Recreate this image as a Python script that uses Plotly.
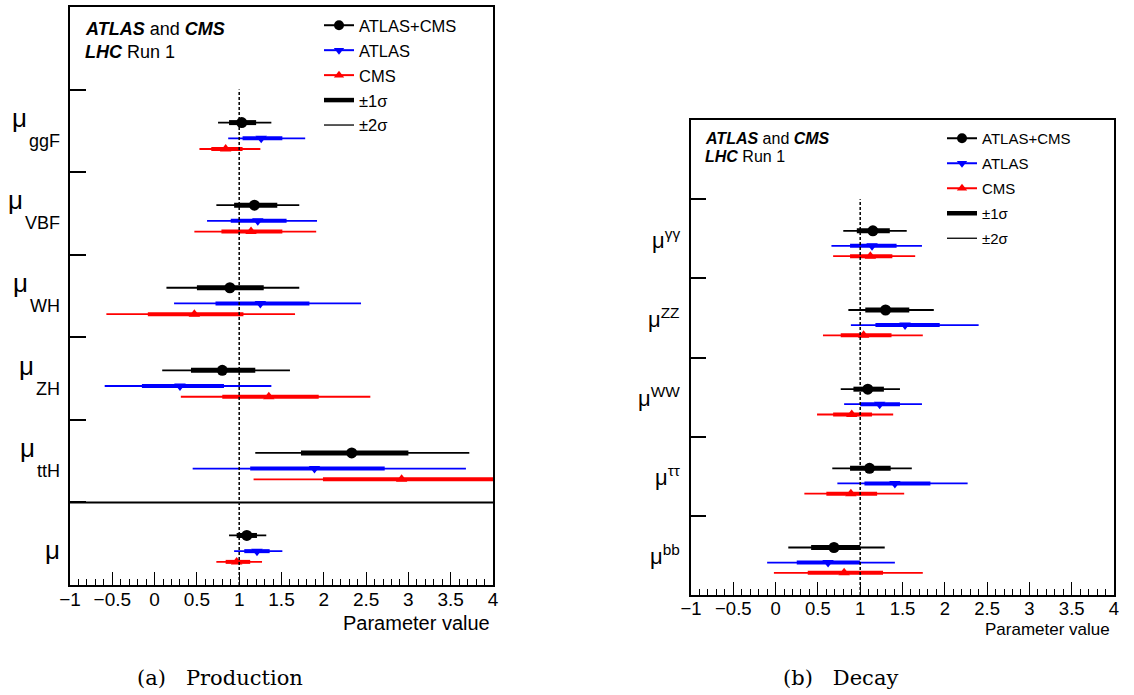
import plotly.graph_objects as go

W, H = 1134, 695
FONT = "Liberation Sans, Arial, Helvetica, sans-serif"

# ---------------------------------------------------------------------------
# Signal strengths: (best fit, 1 sigma low, 1 sigma high, 2 sigma low, 2 sigma high)
# Production panel, top to bottom: ggF, VBF, WH, ZH, ttH, global mu
prod_labels = ["ggF", "VBF", "WH", "ZH", "ttH", ""]
prod_comb = [
    (1.03, 0.88, 1.20, 0.75, 1.38),
    (1.18, 0.94, 1.45, 0.73, 1.71),
    (0.89, 0.50, 1.29, 0.14, 1.71),
    (0.80, 0.43, 1.19, 0.09, 1.60),
    (2.33, 1.73, 3.00, 1.19, 3.72),
    (1.09, 0.97, 1.21, 0.88, 1.32),
]
prod_atlas = [
    (1.26, 1.04, 1.51, 0.87, 1.78),
    (1.22, 0.90, 1.56, 0.62, 1.92),
    (1.25, 0.72, 1.83, 0.23, 2.44),
    (0.30, -0.15, 0.82, -0.59, 1.38),
    (1.89, 1.13, 2.72, 0.45, 3.68),
    (1.21, 1.06, 1.36, 0.94, 1.51),
]
prod_cms = [
    (0.84, 0.67, 1.04, 0.53, 1.25),
    (1.14, 0.79, 1.51, 0.47, 1.91),
    (0.47, -0.08, 1.05, -0.57, 1.66),
    (1.35, 0.80, 1.94, 0.31, 2.55),
    (2.92, 1.99, 4.05, 1.17, 5.00),
    (0.97, 0.84, 1.13, 0.73, 1.27),
]

# Decay panel, top to bottom
decay_labels = ["γγ", "ZZ", "WW", "ττ", "bb"]
decay_comb = [
    (1.15, 0.96, 1.35, 0.80, 1.55),
    (1.30, 1.06, 1.58, 0.86, 1.87),
    (1.09, 0.92, 1.28, 0.77, 1.47),
    (1.11, 0.88, 1.36, 0.67, 1.61),
    (0.69, 0.42, 1.00, 0.15, 1.29),
]
decay_atlas = [
    (1.14, 0.88, 1.43, 0.66, 1.73),
    (1.53, 1.18, 1.94, 0.89, 2.40),
    (1.23, 1.00, 1.47, 0.81, 1.73),
    (1.41, 1.05, 1.83, 0.73, 2.27),
    (0.62, 0.25, 1.00, -0.10, 1.41),
]
decay_cms = [
    (1.12, 0.88, 1.38, 0.68, 1.65),
    (1.04, 0.77, 1.37, 0.56, 1.74),
    (0.90, 0.68, 1.14, 0.49, 1.39),
    (0.89, 0.60, 1.20, 0.34, 1.52),
    (0.81, 0.38, 1.27, -0.02, 1.74),
]

x_ticks = [-1, -0.5, 0, 0.5, 1, 1.5, 2, 2.5, 3, 3.5, 4]
sm_value = 1.0

BLACK, BLUE, RED = "#000000", "#0000ff", "#ff0000"

fig = go.Figure()


def add_series(rows, color, symbol, msize, thick, offset, xa, ya):
    n = len(rows)
    ys = [n - 1 - i + offset for i in range(n)]
    vals = [r[0] for r in rows]
    # +-2 sigma: thin bar
    fig.add_trace(go.Scatter(
        x=vals, y=ys, mode="markers", xaxis=xa, yaxis=ya,
        marker=dict(size=2, color=color, opacity=0),
        error_x=dict(type="data", symmetric=False,
                     array=[r[4] - r[0] for r in rows],
                     arrayminus=[r[0] - r[3] for r in rows],
                     thickness=1.8, width=0, color=color),
        showlegend=False, hoverinfo="skip"))
    # +-1 sigma: thick bar with the best-fit marker
    fig.add_trace(go.Scatter(
        x=vals, y=ys, mode="markers", xaxis=xa, yaxis=ya,
        marker=dict(size=msize, color=color, symbol=symbol, line=dict(width=0)),
        error_x=dict(type="data", symmetric=False,
                     array=[r[2] - r[0] for r in rows],
                     arrayminus=[r[0] - r[1] for r in rows],
                     thickness=thick, width=0, color=color),
        showlegend=False, hoverinfo="skip"))


for xa, ya, comb, atlas, cms in [("x", "y", prod_comb, prod_atlas, prod_cms),
                                 ("x2", "y2", decay_comb, decay_atlas, decay_cms)]:
    add_series(comb, BLACK, "circle", 11, 5, 0.60, xa, ya)
    add_series(atlas, BLUE, "triangle-down", 10, 4, 0.41, xa, ya)
    add_series(cms, RED, "triangle-up", 10, 4, 0.28, xa, ya)

# Legend entries (one legend per panel)
legend_items = [
    ("ATLAS+CMS", BLACK, "lines+markers", 2, "circle", 10),
    ("ATLAS", BLUE, "lines+markers", 2, "triangle-down", 9),
    ("CMS", RED, "lines+markers", 2, "triangle-up", 9),
    ("±1σ", BLACK, "lines", 4.5, "circle", 1),
    ("±2σ", BLACK, "lines", 1.3, "circle", 1),
]
for leg, xa, ya in [("legend", "x", "y"), ("legend2", "x2", "y2")]:
    for k, (name, color, mode, lw, sym, ms) in enumerate(legend_items):
        fig.add_trace(go.Scatter(
            x=[None], y=[None], xaxis=xa, yaxis=ya, mode=mode, name=name,
            line=dict(color=color, width=lw),
            marker=dict(symbol=sym, size=ms, color=color),
            legend=leg, legendgroup=f"{leg}-{k}", showlegend=True))


def xaxis_cfg(domain, anchor, tick_size):
    return dict(
        domain=domain, anchor=anchor, range=[-1, 4], automargin=False,
        tickmode="array", tickvals=x_ticks, ticklabelstandoff=-4,
        ticks="inside", ticklen=13, tickwidth=1.2, tickcolor="black",
        minor=dict(dtick=0.1, tick0=-1, ticks="inside", ticklen=6,
                   tickwidth=1, tickcolor="black", showgrid=False),
        showline=True, linecolor="black", linewidth=1.5, mirror=True,
        showgrid=False, zeroline=False,
        tickfont=dict(family=FONT, size=tick_size, color="black"),
        fixedrange=True)


def yaxis_cfg(domain, anchor, nbands, ticklen):
    return dict(
        domain=domain, anchor=anchor, range=[0, nbands], automargin=False,
        tickmode="array", tickvals=list(range(1, nbands)),
        ticks="inside", ticklen=ticklen, tickwidth=1.5, tickcolor="black",
        showticklabels=False,
        showline=True, linecolor="black", linewidth=1.5, mirror=True,
        showgrid=False, zeroline=False, fixedrange=True)


def px_x(p):
    return p / W


def px_y(p):
    return 1 - p / H


n_prod = len(prod_labels) + 1   # plus the band holding the legend
n_decay = len(decay_labels) + 1

fig.update_layout(
    width=W, height=H,
    margin=dict(l=0, r=0, t=0, b=0, pad=0, autoexpand=False),
    paper_bgcolor="white", plot_bgcolor="white",
    font=dict(family=FONT, color="black"),
    xaxis=xaxis_cfg([px_x(70), px_x(493)], "y", 19),
    yaxis=yaxis_cfg([px_y(585), px_y(7)], "x", n_prod, 16),
    xaxis2=xaxis_cfg([px_x(691), px_x(1114)], "y2", 18.5),
    yaxis2=yaxis_cfg([px_y(595), px_y(120)], "x2", n_decay, 15),
    legend=dict(x=px_x(319), y=px_y(8), xanchor="left", yanchor="top",
                font=dict(family=FONT, size=16.5, color="black"),
                bgcolor="rgba(0,0,0,0)", tracegroupgap=0.5, itemwidth=30),
    legend2=dict(x=px_x(942), y=px_y(122), xanchor="left", yanchor="top",
                 font=dict(family=FONT, size=15, color="black"),
                 bgcolor="rgba(0,0,0,0)", tracegroupgap=2.5, itemwidth=30),
    showlegend=True,
)

shapes = []
# SM expectation
shapes.append(dict(type="line", xref="x", yref="y", x0=sm_value, x1=sm_value,
                   y0=0, y1=n_prod - 1, line=dict(color="black", width=1.5, dash="3px,2px")))
shapes.append(dict(type="line", xref="x2", yref="y2", x0=sm_value, x1=sm_value,
                   y0=0, y1=n_decay - 1, line=dict(color="black", width=1.5, dash="3px,2px")))
# separator between the per-mode results and the global signal strength
shapes.append(dict(type="line", xref="x domain", yref="y", x0=0, x1=1, y0=1, y1=1,
                   line=dict(color="black", width=2)))
fig.update_layout(shapes=shapes)

annotations = []

# approximate Arial advance widths (em) for the subscript letters
ADV = {"g": 0.556, "F": 0.611, "V": 0.667, "B": 0.667, "W": 0.944,
       "H": 0.722, "Z": 0.611, "t": 0.278}
SUB_SIZE, MU_SIZE = 18, 26
label_right = 62
for i, lab in enumerate(prod_labels):
    yc = len(prod_labels) - 1 - i + 0.5
    if lab:
        sub_w = sum(ADV.get(c, 0.6) for c in lab) * SUB_SIZE
        annotations.append(dict(x=px_x(label_right), xref="paper", y=yc, yref="y",
                                xanchor="right", yanchor="middle", yshift=-10,
                                text=lab, showarrow=False,
                                font=dict(family=FONT, size=SUB_SIZE)))
        annotations.append(dict(x=px_x(label_right - sub_w - 2), xref="paper", y=yc,
                                yref="y", xanchor="right", yanchor="middle", yshift=13,
                                text="μ", showarrow=False,
                                font=dict(family=FONT, size=MU_SIZE)))
    else:
        annotations.append(dict(x=px_x(label_right), xref="paper", y=yc, yref="y",
                                xanchor="right", yanchor="middle", yshift=-6,
                                text="μ", showarrow=False,
                                font=dict(family=FONT, size=MU_SIZE)))

for i, lab in enumerate(decay_labels):
    yc = len(decay_labels) - 1 - i + 0.5
    annotations.append(dict(x=px_x(682), xref="paper", y=yc, yref="y2",
                            xanchor="right", yanchor="middle", yshift=0,
                            text=f"μ<sup>{lab}</sup>", showarrow=False,
                            font=dict(family=FONT, size=22)))

# experiment labels
for x0, y1, y2, size in [(83, 29, 52, 18), (703, 138, 157, 16)]:
    annotations.append(dict(x=px_x(x0), y=px_y(y1), xref="paper", yref="paper",
                            xanchor="left", yanchor="middle", showarrow=False,
                            text="<b><i>ATLAS</i></b> and <b><i>CMS</i></b>",
                            font=dict(family=FONT, size=size)))
    annotations.append(dict(x=px_x(x0), y=px_y(y2), xref="paper", yref="paper",
                            xanchor="left", yanchor="middle", showarrow=False,
                            text="<b><i>LHC</i></b> Run 1",
                            font=dict(family=FONT, size=size)))

# axis titles
for xr, yc, size in [(492, 623, 20), (1112, 629, 17)]:
    annotations.append(dict(x=px_x(xr), y=px_y(yc), xref="paper", yref="paper",
                            xanchor="right", yanchor="middle", showarrow=False,
                            text="Parameter value", font=dict(family=FONT, size=size)))

# sub-figure captions
for xc, txt in [(220, "(a)\u00a0\u00a0\u00a0Production"), (840, "(b)\u00a0\u00a0\u00a0Decay")]:
    annotations.append(dict(x=px_x(xc), y=px_y(678), xref="paper", yref="paper",
                            xanchor="center", yanchor="middle", showarrow=False,
                            text=txt, font=dict(family="DejaVu Serif, serif", size=21)))

fig.update_layout(annotations=annotations)

fig.write_html("out.html")
